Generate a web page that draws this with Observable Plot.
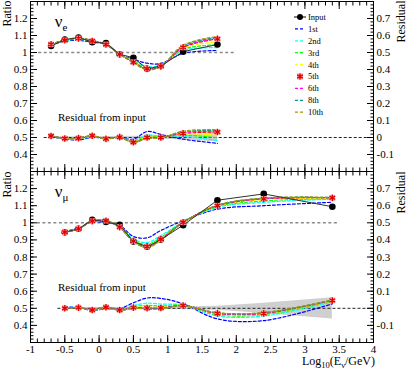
<!DOCTYPE html>
<html><head><meta charset="utf-8">
<script src="https://cdn.jsdelivr.net/npm/d3@7"></script>
<script src="https://cdn.jsdelivr.net/npm/@observablehq/plot@0.6"></script>
<style>
html,body{margin:0;padding:0;background:#fff;}
#chart{position:relative;width:407px;height:371px;overflow:hidden;}
#chart svg{display:block;}
</style></head><body><div id="chart"></div>
<script>
// ---------- data ----------
const seriesNames = ["1st","2nd","3rd","4th","5th","6th","8th","10th"];
const seriesColors = ["#0000ff","#00ffff","#00ff00","#ffff00","#ff0000","#ff00ff","#009999","#a09a00"];

// nu_e panel
const xE = [-0.7,-0.5,-0.3,-0.1,0.1,0.3,0.5,0.7,0.9,1.225,1.725];
const inputE = [1.038,1.076,1.088,1.061,1.055,0.990,0.969,0.904,0.920,1.005,1.047];
const it1E  = [1.044,1.066,1.072,1.060,1.050,0.990,0.960,0.937,0.935,0.995,1.012];
const it2E  = [1.046,1.069,1.078,1.064,1.049,0.990,0.952,0.918,0.926,1.012,1.028];
const it3E  = [1.047,1.070,1.080,1.066,1.048,0.990,0.948,0.911,0.923,1.019,1.045];
const it4E  = [1.047,1.071,1.082,1.067,1.048,0.990,0.945,0.907,0.921,1.025,1.062];
const it5E  = [1.048,1.072,1.083,1.068,1.047,0.990,0.943,0.904,0.920,1.030,1.080];
const it6E  = [1.048,1.072,1.084,1.069,1.047,0.990,0.942,0.902,0.919,1.034,1.085];
const it8E  = [1.049,1.073,1.085,1.070,1.046,0.990,0.941,0.900,0.918,1.039,1.090];
const it10E = [1.049,1.073,1.086,1.071,1.046,0.991,0.940,0.899,0.917,1.043,1.095];
const res1E  = [0.005,-0.009,-0.015,0.000,-0.005,0.000,-0.010,0.035,0.018,-0.010,-0.034];
const res2E  = [0.007,-0.007,-0.009,0.003,-0.006,0.000,-0.018,0.015,0.007,0.007,-0.018];
const res3E  = [0.008,-0.006,-0.007,0.005,-0.007,0.001,-0.022,0.008,0.003,0.014,-0.002];
const res4E  = [0.008,-0.006,-0.005,0.006,-0.007,0.001,-0.025,0.003,0.001,0.020,0.015];
const res5E  = [0.009,-0.006,-0.004,0.010,-0.008,0.002,-0.028,0.000,0.000,0.024,0.032];
const res6E  = [0.009,-0.005,-0.004,0.008,-0.008,0.001,-0.028,-0.002,-0.001,0.029,0.037];
const res8E  = [0.010,-0.005,-0.003,0.009,-0.009,0.001,-0.029,-0.004,-0.002,0.034,0.042];
const res10E = [0.010,-0.005,-0.002,0.010,-0.009,0.001,-0.030,-0.006,-0.003,0.038,0.046];
const errE   = [0.006,0.005,0.005,0.005,0.006,0.006,0.007,0.008,0.010,0.015,0.025];
const ratioLineE = [-0.88, 2.0];
const resLineE = [-0.8, 4.0];

// nu_mu panel
const xM = [-0.5,-0.3,-0.1,0.1,0.3,0.5,0.7,0.9,1.225,1.725,2.4,3.4];
const inputM = [0.945,0.965,1.018,1.005,0.988,0.891,0.860,0.902,0.986,1.132,1.169,1.094];
const it1M  = [0.950,0.970,1.005,1.000,0.985,0.920,0.912,0.955,1.012,1.080,1.100,1.120];
const it2M  = [0.948,0.968,1.008,1.004,0.980,0.905,0.885,0.925,1.005,1.090,1.120,1.138];
const it3M  = [0.947,0.967,1.009,1.007,0.978,0.899,0.874,0.914,1.005,1.095,1.128,1.142];
const it4M  = [0.946,0.966,1.010,1.010,0.976,0.896,0.866,0.908,1.004,1.098,1.135,1.144];
const it5M  = [0.945,0.965,1.010,1.012,0.975,0.893,0.861,0.904,1.003,1.100,1.140,1.146];
const it6M  = [0.945,0.965,1.011,1.013,0.974,0.892,0.859,0.902,1.003,1.101,1.142,1.147];
const it8M  = [0.944,0.965,1.011,1.014,0.973,0.891,0.857,0.900,1.002,1.102,1.144,1.148];
const it10M = [0.944,0.964,1.012,1.015,0.972,0.890,0.855,0.898,1.002,1.103,1.145,1.148];
const res1M  = [0.006,0.005,-0.010,-0.004,-0.002,0.032,0.060,0.058,0.026,-0.062,-0.072,0.026];
const res2M  = [0.004,0.004,-0.010,0.000,-0.008,0.016,0.030,0.025,0.020,-0.045,-0.045,0.038];
const res3M  = [0.002,0.004,-0.010,0.002,-0.009,0.009,0.017,0.013,0.019,-0.038,-0.037,0.042];
const res4M  = [0.001,0.004,-0.010,0.004,-0.010,0.006,0.008,0.006,0.018,-0.034,-0.033,0.044];
const res5M  = [0.000,0.004,-0.010,0.006,-0.010,0.004,0.001,0.002,0.016,-0.030,-0.030,0.046];
const res6M  = [0.000,0.003,-0.010,0.007,-0.011,0.002,-0.001,0.000,0.016,-0.028,-0.028,0.047];
const res8M  = [-0.001,0.003,-0.011,0.008,-0.012,0.001,-0.003,-0.002,0.016,-0.027,-0.026,0.048];
const res10M = [-0.001,0.003,-0.011,0.009,-0.012,0.000,-0.005,-0.004,0.015,-0.026,-0.025,0.049];
const errM   = [0.004,0.004,0.004,0.004,0.005,0.005,0.006,0.007,0.008,0.012,0.030,0.062];
const ratioLineM = [-0.9, 3.5];
const resLineM = [-0.6, 4.0];

// ticks
const xTickVals = [-1,-0.5,0,0.5,1,1.5,2,2.5,3,3.5,4];
const xTickLabels = ["-1","-0.5","0","0.5","1","1.5","2","2.5","3","3.5","4"];
const yTickVals = [0.3,0.4,0.5,0.6,0.7,0.8,0.9,1.0,1.1,1.2,1.3];
const yTickLabels = ["","0.4","0.5","0.6","0.7","0.8","0.9","1","1.1","1.2",""];
const resTickLabels = ["","-0.1","0","0.1","0.2","0.3","0.4","0.5","0.6","0.7",""];
const xMinor = d3.range(-10, 41).map(i => i / 10);
const yMinor = d3.range(15, 66).map(i => i / 50);

// ---------- drawing ----------
const FONT = "'Liberation Serif','Times New Roman',serif";
const toRatio = r => 0.5 + r;  // residual axis (right) is offset by 0.5 from ratio axis (left)
const rows = (xs, ys, f = v => v) => xs.map((x, i) => ({x, y: f(ys[i])}));
const lab = (vals, labels) => v => { const i = vals.findIndex(t => Math.abs(t - v) < 1e-6); return i < 0 ? "" : labels[i]; };

function panel(cfg) {
  const m = [];
  m.push(Plot.areaY(cfg.xs.map((x, i) => ({x, lo: toRatio(-cfg.err[i]), hi: toRatio(cfg.err[i])})),
    {x: "x", y1: "lo", y2: "hi", fill: "#cfcfcf"}));
  m.push(Plot.ruleY([{y: 1, a: cfg.ratioLine[0], b: cfg.ratioLine[1]}], {y: "y", x1: "a", x2: "b", stroke: "#8a8a8a", strokeWidth: 1.4, strokeDasharray: "3,2.5"}));
  m.push(Plot.ruleY([{y: 0.5, a: cfg.resLine[0], b: cfg.resLine[1]}], {y: "y", x1: "a", x2: "b", stroke: "#222", strokeWidth: 1, strokeDasharray: "3,2"}));
  cfg.its.forEach((ys, k) => m.push(Plot.line(rows(cfg.xs, ys), {x: "x", y: "y", stroke: seriesColors[k], strokeWidth: 1.2, strokeDasharray: "3,2", curve: "catmull-rom"})));
  cfg.res.forEach((ys, k) => m.push(Plot.line(rows(cfg.xs, ys, toRatio), {x: "x", y: "y", stroke: seriesColors[k], strokeWidth: 1.2, strokeDasharray: "3,2", curve: "catmull-rom"})));
  m.push(Plot.line(rows(cfg.xs, cfg.input), {x: "x", y: "y", stroke: "#333", strokeWidth: 1}));
  m.push(Plot.dot(rows(cfg.xs, cfg.input), {x: "x", y: "y", r: 3.3, fill: "#000"}));
  for (const d of [rows(cfg.xs, cfg.its[4]), rows(cfg.xs, cfg.res[4], toRatio)]) {
    m.push(Plot.dot(d, {x: "x", y: "y", symbol: "square", r: 3.2, fill: "#ff9c9c"}));
    m.push(Plot.dot(d, {x: "x", y: "y", symbol: "asterisk", r: 3.1, stroke: "#e00000", strokeWidth: 1.3}));
  }
  m.push(Plot.frame({stroke: "#000", strokeWidth: 1}));
  for (const anchor of ["bottom", "top"]) {
    m.push(Plot.axisX({anchor, ticks: xMinor, tickSize: -3.5, tickFormat: () => "", label: null}));
    m.push(Plot.axisX({anchor, ticks: xTickVals, tickSize: -7, tickPadding: 10, fontSize: 11,
      tickFormat: (anchor === "bottom" && cfg.showX) ? lab(xTickVals, xTickLabels) : () => "", label: null}));
  }
  m.push(Plot.axisY({anchor: "left", ticks: yMinor, tickSize: -3.5, tickFormat: () => "", label: null}));
  m.push(Plot.axisY({anchor: "left", ticks: yTickVals, tickSize: -7, tickPadding: 10, fontSize: 11, tickFormat: lab(yTickVals, yTickLabels), label: null}));
  m.push(Plot.axisY({anchor: "right", ticks: yMinor, tickSize: -3.5, tickFormat: () => "", label: null}));
  m.push(Plot.axisY({anchor: "right", ticks: yTickVals, tickSize: -7, tickPadding: 10, fontSize: 11, tickFormat: lab(yTickVals, resTickLabels), label: null}));
  m.push(Plot.text(["Residual from input"], {x: () => -0.6, y: () => 0.6, text: d => d, textAnchor: "start", lineAnchor: "bottom", fontSize: 11}));
  m.push(Plot.text(["Ratio"], {frameAnchor: "top-left", text: d => d, rotate: -90, textAnchor: "end", lineAnchor: "bottom", dx: -20, dy: -cfg.marginTop, fontSize: 12}));
  m.push(Plot.text(["Residual"], {frameAnchor: "top-right", text: d => d, rotate: -90, textAnchor: "end", lineAnchor: "bottom", dx: 31, dy: -cfg.marginTop, fontSize: 12}));

  const svg = Plot.plot({
    width: 407, height: cfg.height,
    marginLeft: 30, marginRight: 34, marginTop: cfg.marginTop, marginBottom: cfg.marginBottom,
    x: {domain: [-1, 4], axis: null},
    y: {domain: [0.3, 1.3], axis: null},
    style: {fontFamily: FONT, fontSize: "11px", background: "#fff", color: "#000", overflow: "visible"},
    marks: m
  });
  const sx = svg.scale("x"), sy = svg.scale("y");
  const g = d3.select(svg).append("g").attr("font-family", FONT).attr("fill", "#000").attr("text-anchor", "start");
  const t = g.append("text").attr("x", sx.apply(-0.64)).attr("y", sy.apply(1.15)).attr("font-size", 17);
  t.append("tspan").text("ν");
  t.append("tspan").attr("font-size", 11).attr("dy", 4).text(cfg.sub);
  return svg;
}

const chartEl = document.getElementById("chart");
const topSvg = panel({xs: xE, input: inputE, its: [it1E,it2E,it3E,it4E,it5E,it6E,it8E,it10E],
  res: [res1E,res2E,res3E,res4E,res5E,res6E,res8E,res10E], err: errE,
  ratioLine: ratioLineE, resLine: resLineE, sub: "e", height: 171, marginTop: 1, marginBottom: 0, showX: false});
const botSvg = panel({xs: xM, input: inputM, its: [it1M,it2M,it3M,it4M,it5M,it6M,it8M,it10M],
  res: [res1M,res2M,res3M,res4M,res5M,res6M,res8M,res10M], err: errM,
  ratioLine: ratioLineM, resLine: resLineM, sub: "μ", height: 200, marginTop: 0, marginBottom: 29, showX: true});
chartEl.appendChild(topSvg);
chartEl.appendChild(botSvg);

{
  const g = d3.select(botSvg).append("text").attr("font-family", FONT).attr("font-size", 12)
    .attr("text-anchor", "end").attr("x", 375).attr("y", 194);
  g.append("tspan").text("Log");
  g.append("tspan").attr("font-size", 8.5).attr("dy", 3).text("10");
  g.append("tspan").attr("dy", -3).text("(E");
  g.append("tspan").attr("font-size", 8.5).attr("dy", 3).text("ν");
  g.append("tspan").attr("dy", -3).text("/GeV)");
}

{
  const names = ["Input", ...seriesNames];
  const lg = d3.select(topSvg).append("g").attr("font-family", FONT).attr("font-size", 8.5).attr("text-anchor", "start");
  names.forEach((n, i) => {
    const y = 17 + i * 11.9;
    if (i === 0) {
      lg.append("line").attr("x1", 294).attr("x2", 306).attr("y1", y).attr("y2", y).attr("stroke", "#000");
      lg.append("circle").attr("cx", 300).attr("cy", y).attr("r", 3).attr("fill", "#000");
    } else if (n === "5th") {
      lg.append("rect").attr("x", 297).attr("y", y - 3).attr("width", 6).attr("height", 6).attr("fill", "#ff9c9c");
      lg.append("path").attr("d", d3.symbol(d3.symbolAsterisk, 30)()).attr("transform", `translate(300,${y})`).attr("stroke", "#e00000").attr("stroke-width", 1.3).attr("fill", "none");
    } else {
      lg.append("line").attr("x1", 295).attr("x2", 305).attr("y1", y).attr("y2", y)
        .attr("stroke", seriesColors[i - 1]).attr("stroke-width", 1.2).attr("stroke-dasharray", "3,2");
    }
    lg.append("text").attr("x", 308).attr("y", y).attr("dy", "0.35em").text(n);
  });
}
</script>
</body></html>
